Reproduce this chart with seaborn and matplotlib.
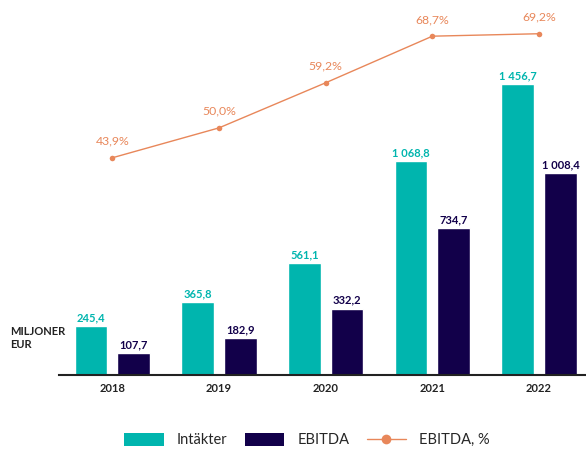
import numpy as np
import pandas as pd
import matplotlib
matplotlib.use("Agg")
import matplotlib.pyplot as plt
import seaborn as sns
from matplotlib.patches import Patch
from matplotlib.lines import Line2D

# ---- data ----
years = ["2018", "2019", "2020", "2021", "2022"]
intakter = [245.4, 365.8, 561.1, 1068.8, 1456.7]
ebitda = [107.7, 182.9, 332.2, 734.7, 1008.4]
ebitda_pct = [43.9, 50.0, 59.2, 68.7, 69.2]

TEAL = "#00B5AE"
NAVY = "#12004A"
ORANGE = "#E8875A"


def fmt(v, dec=1):
    s = f"{v:,.{dec}f}"
    return s.replace(",", " ").replace(".", ",")


sns.set_theme(style="white")
plt.rcParams["font.family"] = ["Lato", "DejaVu Sans"]

df = pd.DataFrame({
    "year": years * 2,
    "value": intakter + ebitda,
    "serie": ["Intäkter"] * len(years) + ["EBITDA"] * len(years),
})

fig = plt.figure(figsize=(5.86, 4.49), dpi=100)
ax = fig.add_axes([59 / 586, 1 - 375 / 449, 527 / 586, 355 / 449])

sns.barplot(data=df, x="year", y="value", hue="serie",
            palette={"Intäkter": TEAL, "EBITDA": NAVY},
            width=0.8, gap=0.23, saturation=1, legend=False, ax=ax)

ax.set_xlim(-0.5, 4.44)
ax.set_ylim(0, 1775)
ax.set_xlabel("")
ax.set_ylabel("")
ax.set_yticks([])
for s in ["top", "right", "left"]:
    ax.spines[s].set_visible(False)
ax.spines["bottom"].set_color("#222222")
ax.spines["bottom"].set_linewidth(1.5)
ax.tick_params(axis="x", length=0, pad=6)
for t in ax.get_xticklabels():
    t.set_fontweight("bold")
    t.set_fontsize(8)
    t.set_color("#222222")

# value labels on bars
for cont, vals, col in zip(ax.containers, [intakter, ebitda], [TEAL, NAVY]):
    ax.bar_label(cont, labels=[fmt(v) for v in vals], padding=2,
                 fontsize=8, fontweight="bold", color=col)

# EBITDA % line on a twin axis
ax2 = ax.twinx()
ax2.set_position(ax.get_position())
x_pos = np.arange(len(years))
sns.lineplot(x=x_pos, y=ebitda_pct, color=ORANGE, marker="o",
             markersize=4, markeredgewidth=0, linewidth=1, ax=ax2)
ax2.set_ylim(-0.4, 72)
ax2.set_xlim(ax.get_xlim())
ax2.set_yticks([])
for s in ["top", "right", "left", "bottom"]:
    ax2.spines[s].set_visible(False)
for xp, v in zip(x_pos, ebitda_pct):
    ax2.annotate(fmt(v) + "%", (xp, v), xytext=(0, 8), textcoords="offset points",
                 ha="center", va="bottom", fontsize=8.8, color=ORANGE)

fig.text(10 / 586, 1 - 338 / 449, "MILJONER\nEUR", fontsize=8, fontweight="bold",
         color="#222222", va="center", ha="left", linespacing=1.3)

handles = [
    Patch(facecolor=TEAL, edgecolor="none"),
    Patch(facecolor=NAVY, edgecolor="none"),
    Line2D([0], [0], color=ORANGE, marker="o", markersize=7, markeredgewidth=0, linewidth=1),
]
fig.legend(handles, ["Intäkter", "EBITDA", "EBITDA, %"], loc="center",
           bbox_to_anchor=(307 / 586, 1 - 440 / 449), ncol=3, frameon=False,
           fontsize=10.5, handlelength=2.7, handleheight=1.0, columnspacing=1.2,
           handletextpad=0.9)

fig.savefig("out.png", dpi=100)
